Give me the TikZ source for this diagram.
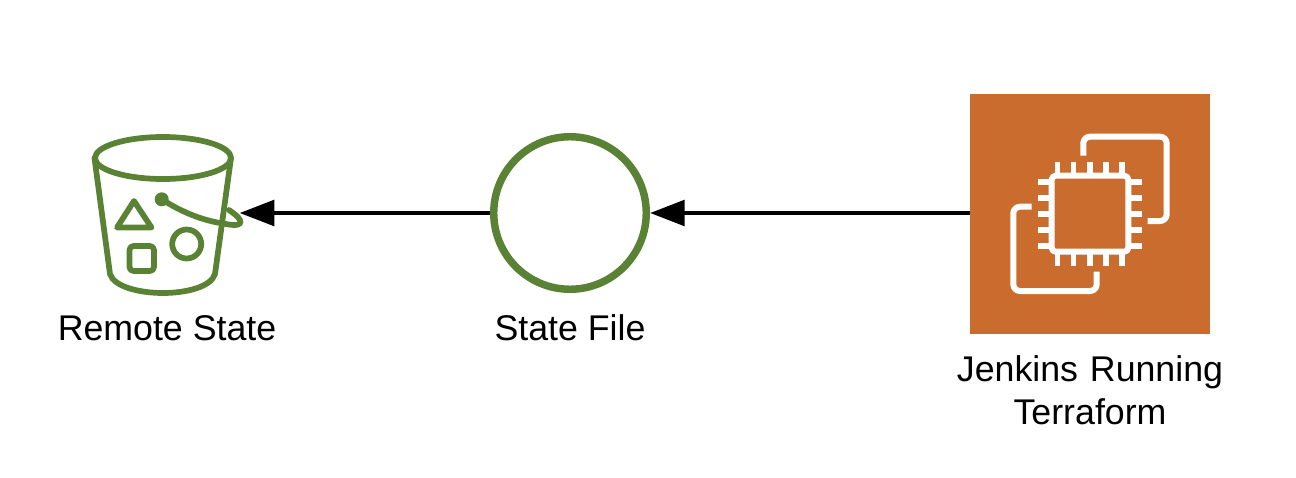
\documentclass[tikz,border=0pt]{standalone}
\usepackage{fontspec}
\setmainfont{Liberation Sans}
\usetikzlibrary{arrows.meta}
\definecolor{bucketgreen}{HTML}{5A8234}
\definecolor{ecorange}{HTML}{C96C2E}
\tikzset{
  x=0.75pt,y=-0.75pt,
  bucketline/.style={draw=bucketgreen,line width=4.3pt,line join=round,line cap=round},
  iconline/.style={draw=white,line width=4.5pt,line join=round,rounded corners=5pt},
  pinline/.style={draw=white,line width=4pt},
  label/.style={font=\fontsize{26.8}{32.4}\selectfont,align=center,text=black,inner sep=0pt},
  flow/.style={draw=black,line width=3.4pt,-{Triangle[length=26pt,width=19pt]}},
  anchorbox/.style={draw=none,fill=none,inner sep=0pt,minimum width=#1,minimum height=120pt},
}
\begin{document}
\begin{tikzpicture}
\useasboundingbox (0,0) rectangle (1296,478);
% bucket
\draw[bucketline] (163,158) ellipse [x radius=68,y radius=21];
\draw[bucketline] (94.5,158) -- (110,274) .. controls (114,287) and (140,293) .. (163,293) .. controls (186,293) and (211,287) .. (215,274) -- (231,158);
\draw[bucketline] (134,201) -- (117,227.5) -- (151.5,227.5) -- cycle;
\draw[bucketline,rounded corners=3pt] (129.5,246) rectangle (154,271);
\draw[bucketline] (186.7,244) circle [radius=14.5];
\fill[bucketgreen] (161.7,199.3) circle [radius=7];
\draw[bucketline] (161.7,199.3) .. controls (185,214) and (205,221) .. (226,224) .. controls (236,226) and (243,225) .. (240,220) .. controls (238,216) and (233,213) .. (229,210);
\node[anchorbox=110pt] (bucket) at (166,213) {};
% state file
\node[draw=bucketgreen,line width=5.6pt,circle,minimum size=114.4pt,inner sep=0pt,outer sep=2.8pt] (file) at (570,213) {};
% EC2
\node[fill=ecorange,draw=none,minimum size=180pt,inner sep=0pt] (ec) at (1090,214) {};
\draw[iconline] (1083.3,155.7) -- (1083.3,136.7) -- (1166.7,136.7) -- (1166.7,221) -- (1147.7,221);
\draw[iconline] (1096.7,271.7) -- (1096.7,291) -- (1013.3,291) -- (1013.3,206.7) -- (1031.7,206.7);
\draw[iconline,rounded corners=3pt] (1051.7,175.7) rectangle (1128.3,251.7);
\foreach \p in {1057.7,1073.7,1090,1106,1122}{
  \draw[pinline] (\p,162.3) -- (\p,174);
  \draw[pinline] (\p,254) -- (\p,265.7);
}
\foreach \p in {182,198,214,230,246}{
  \draw[pinline] (1038.3,\p) -- (1050,\p);
  \draw[pinline] (1130,\p) -- (1141.7,\p);
}
% labels
\node[label] (bucketlabel) at (167,328) {Remote State};
\node[label] (filelabel) at (570,328) {State File};
\node[label,text width=300pt] (eclabel) at (1090,390) {Jenkins Running\\Terraform};
% connectors
\draw[flow] (file.west |- 0,213) -- (bucket.east |- 0,213);
\draw[flow] (ec.west |- 0,213) -- (file.east |- 0,213);
\end{tikzpicture}
\end{document}
